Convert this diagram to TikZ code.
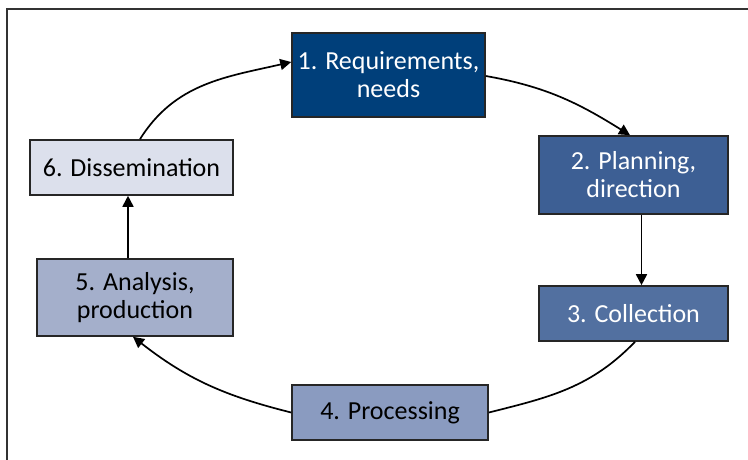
\documentclass[tikz,border=0pt]{standalone}
\usepackage{fontspec}
\setmainfont{Carlito}
\usetikzlibrary{arrows.meta}
\definecolor{bleuA}{RGB}{0,63,122}
\definecolor{bleuB}{RGB}{61,95,148}
\definecolor{bleuC}{RGB}{82,112,160}
\definecolor{bleuD}{RGB}{138,155,192}
\definecolor{bleuE}{RGB}{164,175,203}
\definecolor{bleuF}{RGB}{220,224,236}
\tikzset{
	etape/.style={draw=black!85,line width=1.6pt,inner sep=0pt,align=center,
		font=\fontsize{26}{28}\selectfont},
	fleche/.style={line width=1.7pt,-{Triangle[length=11pt,width=11pt]}},
	lien/.style={line width=1.7pt}
}

\begin{document}
\begin{tikzpicture}[x=1pt,y=1pt]
	\useasboundingbox (0,0) rectangle (748,460);
	% Cadre %
	\draw[line width=1.5pt,black!80] (7,0) -- (7,451) -- (748,451);
	% Etapes %
	\node[etape,fill=bleuA,text=white,minimum width=193pt,minimum height=84pt] (s1) at (388.5,385) {1. Requirements,\\needs};
	\node[etape,fill=bleuB,text=white,minimum width=189pt,minimum height=78pt] (s2) at (633.5,285) {2. Planning,\\direction};
	\node[etape,fill=bleuC,text=white,minimum width=189pt,minimum height=55pt] (s3) at (633.5,146.5) {3. Collection};
	\node[etape,fill=bleuD,minimum width=196pt,minimum height=55pt] (s4) at (390,47.5) {4. Processing};
	\node[etape,fill=bleuE,minimum width=196pt,minimum height=77pt] (s5) at (135,162.5) {5. Analysis,\\production};
	\node[etape,fill=bleuF,minimum width=203pt,minimum height=55pt] (s6) at (131.5,292.5) {6. Dissemination};
	% Cycle %
	\draw[fleche] ([xshift=8.5pt]s6.north) to[out=58,in=193] ([yshift=13pt]s1.west);
	\draw[fleche] ([yshift=-1pt]s1.east) to[out=-10,in=148] ([xshift=-3.5pt]s2.north);
	\draw[fleche] ([xshift=8pt]s2.south) -- ([xshift=8pt]s3.north);
	\draw[lien] ([xshift=1.5pt]s3.south) to[out=226,in=14] (s4.east);
	\draw[fleche] (s4.west) to[out=166,in=-38] ([xshift=-2pt]s5.south);
	\draw[fleche] ([xshift=-7pt]s5.north) -- ([xshift=-3.5pt]s6.south);
\end{tikzpicture}
\end{document}
